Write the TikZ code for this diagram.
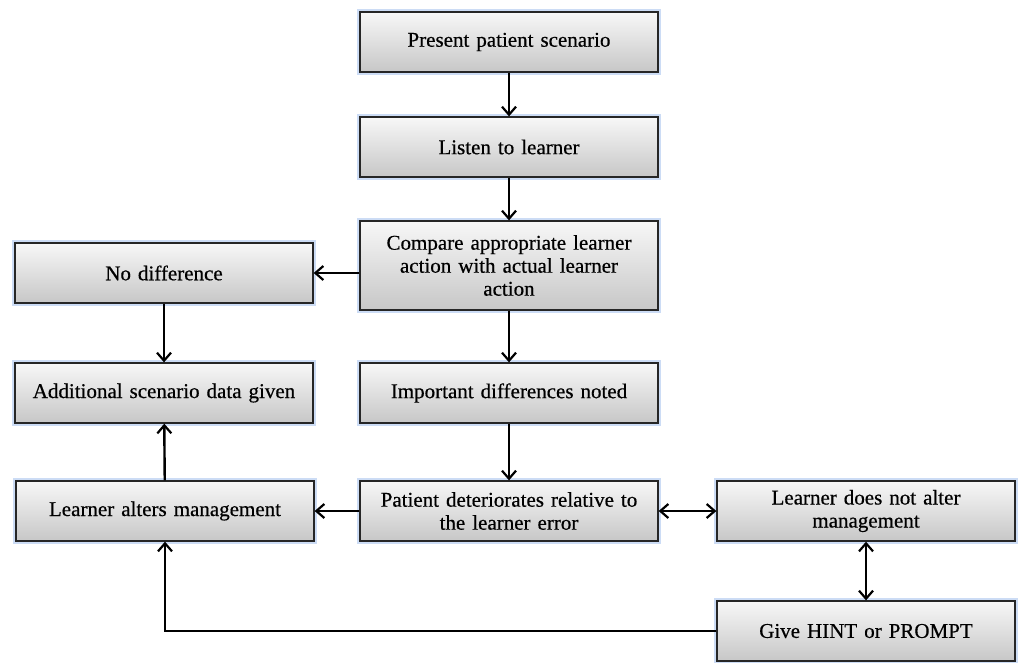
\documentclass[tikz,border=0pt]{standalone}
\usepackage{fontspec}
\setmainfont[FakeBold=0.5]{Liberation Serif}
\usetikzlibrary{arrows.meta,calc}
\definecolor{glow}{RGB}{110,155,225}
\begin{document}
\begin{tikzpicture}[x=1pt,y=-1pt,
  box/.style={draw=black!85, line width=1.3pt, minimum width=298pt, minimum height=60pt,
    inner sep=3pt, align=center, font=\fontsize{21}{23}\selectfont,
    top color=black!3, bottom color=black!22,
    preaction={draw=glow, line width=6pt, opacity=0.35},
    text width=290pt},
  arr/.style={line width=2.4pt, -{Straight Barb[length=8pt,width=14pt,line width=2.2pt]}},
  darr/.style={line width=2.4pt, {Straight Barb[length=8pt,width=14pt,line width=2.2pt]}-{Straight Barb[length=8pt,width=14pt,line width=2.2pt]}}
]
\useasboundingbox (0,0) rectangle (1024,662);
\node[box] (present) at (509,42) {Present patient scenario};
\node[box] (listen) at (509,147) {Listen to learner};
\node[box, minimum height=89pt] (compare) at (509,265.5) {Compare appropriate learner\\action with actual learner\\action};
\node[box] (nodiff) at (164,273) {No difference};
\node[box] (additional) at (164,393) {Additional scenario data given};
\node[box] (important) at (509,393) {Important differences noted};
\node[box] (alters) at (165,511) {Learner alters management};
\node[box] (deteriorates) at (509,511) {Patient deteriorates relative to\\the learner error};
\node[box] (notalter) at (866,511) {Learner does not alter\\management};
\node[box] (hint) at (866,631) {Give HINT or PROMPT};
\draw[arr] (present) -- (listen);
\draw[arr] (listen) -- (compare);
\draw[arr] (compare.west |- nodiff) -- (nodiff.east);
\draw[arr] (compare) -- (important);
\draw[arr] (nodiff) -- (additional);
\draw[arr] (important) -- (deteriorates);
\draw[arr] (deteriorates) -- (alters);
\draw[darr] (deteriorates) -- (notalter);
\draw[arr] (alters) -- (additional);
\draw[darr] (notalter) -- (hint);
\draw[arr] (hint.west) -| (alters.south);
\end{tikzpicture}
\end{document}
